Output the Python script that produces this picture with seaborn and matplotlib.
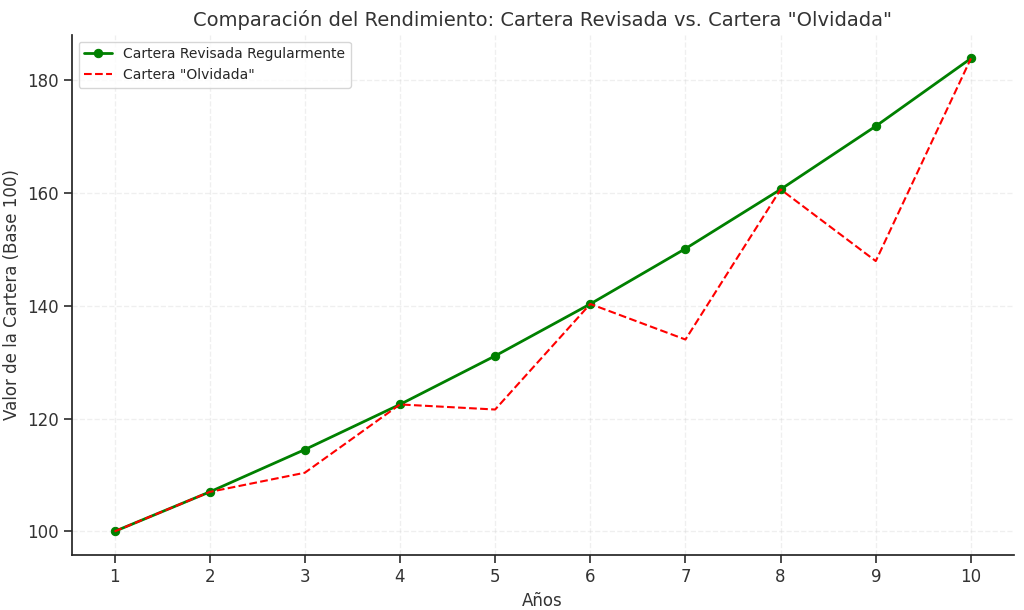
import numpy as np
import pandas as pd
import seaborn as sns
import matplotlib.pyplot as plt

years = [1, 2, 3, 4, 5, 6, 7, 8, 9, 10]
revisada = [100, 107, 114.5, 122.5, 131.1, 140.3, 150.1, 160.6, 171.8, 183.8]
olvidada = [100, 107, 110.4, 122.5, 121.6, 140.3, 134.0, 160.6, 147.9, 183.8]

sns.set_theme(style="ticks")
fig, ax = plt.subplots(figsize=(10.24, 6.10), dpi=100)

sns.lineplot(x=years, y=revisada, ax=ax, color="green", marker="o", markersize=6,
             markeredgecolor="green", linewidth=2, label="Cartera Revisada Regularmente")
sns.lineplot(x=years, y=olvidada, ax=ax, color="red", linestyle="--", linewidth=1.5,
             label='Cartera "Olvidada"')

ax.set_title('Comparación del Rendimiento: Cartera Revisada vs. Cartera "Olvidada"', fontsize=14, color="#333333")
ax.set_xlabel("Años", fontsize=12, color="#333333")
ax.set_ylabel("Valor de la Cartera (Base 100)", fontsize=12, color="#333333")
ax.set_xticks(years)
ax.set_yticks([100, 120, 140, 160, 180])
ax.tick_params(labelsize=12, colors="#333333")
ax.grid(True, linestyle="--", alpha=0.3, color="#cccccc")
ax.legend(loc="upper left", fontsize=10)
sns.despine()

plt.subplots_adjust(left=0.07, right=0.99, top=0.943, bottom=0.09)
plt.savefig("out.png", dpi=100)
